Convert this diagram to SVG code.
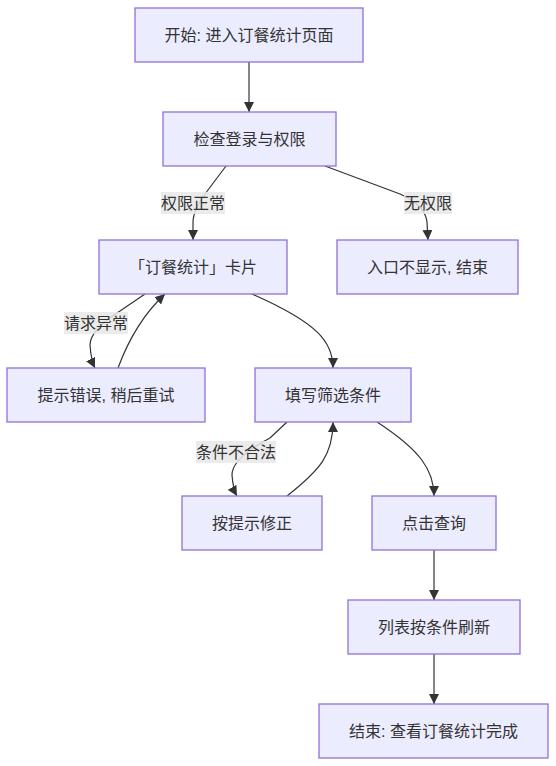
<svg xmlns="http://www.w3.org/2000/svg" width="556" height="766" viewBox="0 0 556 766">
<style>
.node rect{fill:#ECECFF;stroke:#9370DB;stroke-width:1.3}
text{font-family:"Liberation Sans","Noto Sans CJK SC",sans-serif;font-size:16px;fill:#333;text-anchor:middle;dominant-baseline:central}
.edge{fill:none;stroke:#333;stroke-width:1.2}
.lbl rect{fill:#e8e8e8;fill-opacity:0.85}
</style>
<defs>
<marker id="arr" markerUnits="userSpaceOnUse" viewBox="0 0 10 10" refX="10" refY="5" markerWidth="10" markerHeight="10" orient="auto">
<path d="M0,0 L10,5 L0,10 z" fill="#333"/>
</marker>
</defs>
<rect width="556" height="766" fill="#fff"/>
<g id="edges">
<path class="edge" d="M249,62 L249,112" marker-end="url(#arr)"/>
<path class="edge" d="M226,166 L208,190 Q193,210 193,222 L193,240" marker-end="url(#arr)"/>
<path class="edge" d="M325,166 L400,194 Q425,205 427,222 L428,240" marker-end="url(#arr)"/>
<path class="edge" d="M145,294 L120,311 Q90,330 90,345 Q91,360 95,368" marker-end="url(#arr)"/>
<path class="edge" d="M118,368 Q135,322 165,294" marker-end="url(#arr)"/>
<path class="edge" d="M252,294 C318,323 333,342 333,368" marker-end="url(#arr)"/>
<path class="edge" d="M287,422 L270,438 Q232,458 232,475 Q233,489 237,496" marker-end="url(#arr)"/>
<path class="edge" d="M287,496 C320,470 333,455 333,422" marker-end="url(#arr)"/>
<path class="edge" d="M377,422 C420,450 434,470 434,496" marker-end="url(#arr)"/>
<path class="edge" d="M434,550 L434,600" marker-end="url(#arr)"/>
<path class="edge" d="M434,654 L434,704" marker-end="url(#arr)"/>
</g>
<g id="edge-labels">
<g class="lbl" id="l1"><rect x="161" y="192" width="64" height="22"/><text x="193" y="203">权限正常</text></g>
<g class="lbl" id="l2"><rect x="404" y="192" width="48" height="22"/><text x="428" y="203">无权限</text></g>
<g class="lbl" id="l3"><rect x="64" y="312" width="64" height="22"/><text x="96" y="323">请求异常</text></g>
<g class="lbl" id="l4"><rect x="196" y="441" width="80" height="22"/><text x="236" y="452">条件不合法</text></g>
</g>
<g class="node" id="n1"><rect x="135" y="8" width="228" height="54"/><text x="249" y="35">开始: 进入订餐统计页面</text></g>
<g class="node" id="n2"><rect x="163" y="112" width="173" height="54"/><text x="249.5" y="139">检查登录与权限</text></g>
<g class="node" id="n3"><rect x="99" y="240" width="188" height="54"/><text x="193" y="267">「订餐统计」卡片</text></g>
<g class="node" id="n4"><rect x="337" y="240" width="181" height="54"/><text x="427.5" y="267">入口不显示, 结束</text></g>
<g class="node" id="n5"><rect x="7" y="368" width="198" height="54"/><text x="106" y="395">提示错误, 稍后重试</text></g>
<g class="node" id="n6"><rect x="255" y="368" width="156" height="54"/><text x="333" y="395">填写筛选条件</text></g>
<g class="node" id="n7"><rect x="182" y="496" width="140" height="54"/><text x="252" y="523">按提示修正</text></g>
<g class="node" id="n8"><rect x="372" y="496" width="124" height="54"/><text x="434" y="523">点击查询</text></g>
<g class="node" id="n9"><rect x="348" y="600" width="172" height="54"/><text x="434" y="627">列表按条件刷新</text></g>
<g class="node" id="n10"><rect x="319" y="704" width="229" height="54"/><text x="433.5" y="731">结束: 查看订餐统计完成</text></g>
</svg>
